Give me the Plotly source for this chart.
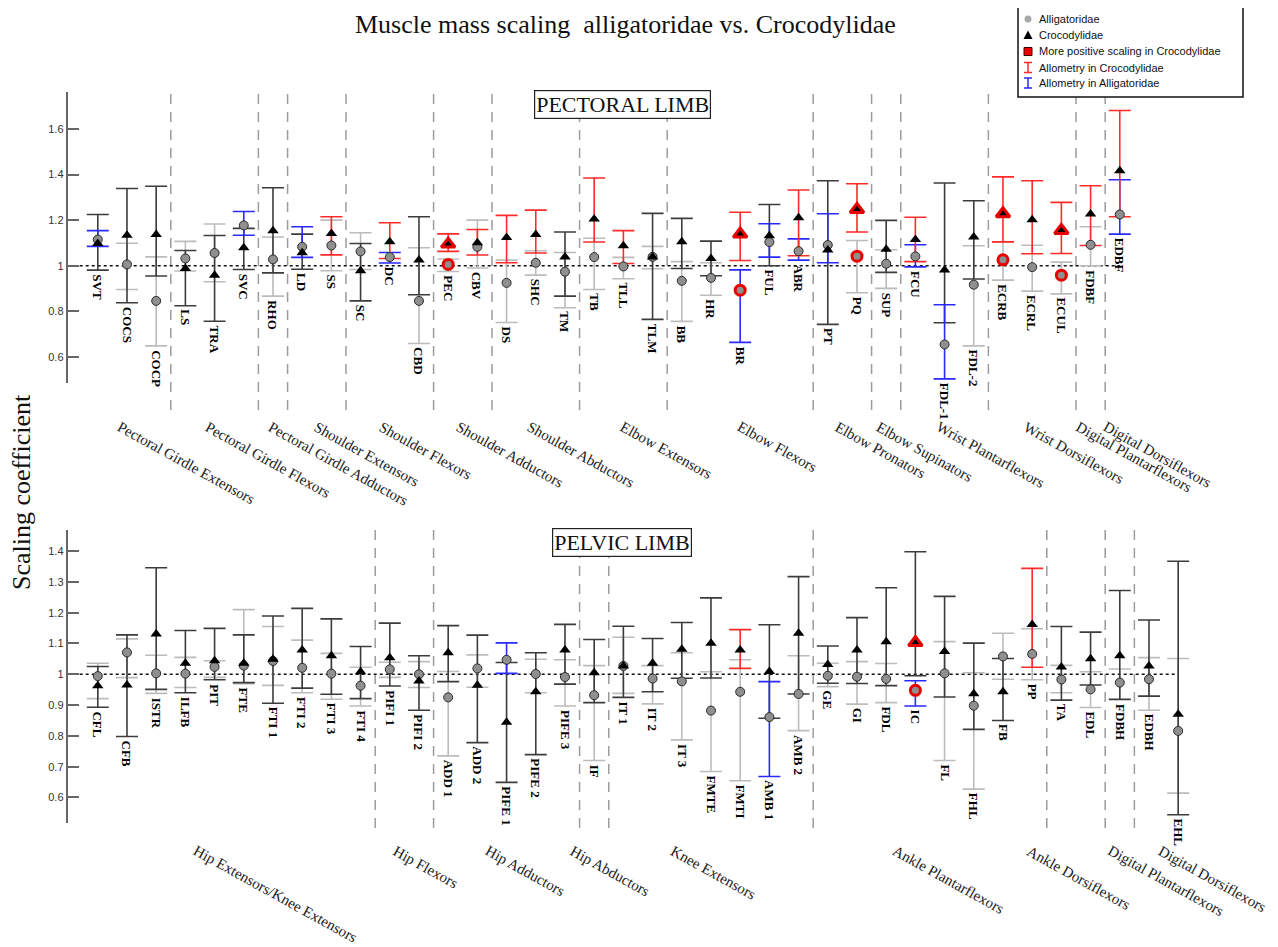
import plotly.graph_objects as go

# the page body has an 8 px margin, so the figure is laid out from there
OFF = 8
W, H = 1278 - OFF, 947 - OFF

# ---------------- data ----------------
pectoral_muscles = ["SVT", "COCS", "COCP", "LS", "TRA", "SVC", "RHO", "LD", "SS", "SC", "DC", "CBD",
                    "PEC", "CBV", "DS", "SHC", "TM", "TB", "TLL", "TLM", "BB", "HR", "BR", "FUL",
                    "ABR", "PT", "PQ", "SUP", "FCU", "FDL-1", "FDL-2", "ECRB", "ECRL", "ECUL", "FDBF", "EDBF"]
pectoral_allig = [1.115, 1.006, 0.846, 1.032, 1.056, 1.177, 1.028, 1.083, 1.089, 1.063, 1.038, 0.846,
                  1.006, 1.083, 0.925, 1.013, 0.974, 1.038, 0.997, 1.039, 0.934, 0.947, 0.893, 1.104,
                  1.064, 1.091, 1.042, 1.009, 1.041, 0.655, 0.917, 1.026, 0.994, 0.959, 1.092, 1.225]
pectoral_allig_lo = [1.085, 0.896, 0.649, 0.977, 0.930, 1.134, 0.867, 1.037, 0.978, 0.984, 1.012, 0.659,
                     0.975, 0.990, 0.751, 0.959, 0.816, 0.896, 0.943, 0.987, 0.756, 0.871, 0.664, 1.038,
                     1.025, 1.013, 0.882, 0.901, 0.995, 0.504, 0.649, 0.937, 0.889, 0.877, 1.000, 1.139]
pectoral_allig_hi = [1.154, 1.099, 1.039, 1.107, 1.183, 1.238, 1.126, 1.171, 1.200, 1.145, 1.058, 1.079,
                     1.030, 1.200, 1.025, 1.066, 1.058, 1.121, 1.037, 1.085, 1.018, 1.013, 0.982, 1.184,
                     1.118, 1.228, 1.111, 1.070, 1.092, 0.829, 1.088, 1.104, 1.090, 1.016, 1.171, 1.377]
pectoral_croc = [1.098, 1.134, 1.137, 0.988, 0.959, 1.079, 1.154, 1.057, 1.142, 0.978, 1.105, 1.025,
                 1.095, 1.101, 1.124, 1.137, 1.039, 1.205, 1.088, 1.039, 1.105, 1.032, 1.139, 1.132,
                 1.211, 1.069, 1.247, 1.073, 1.115, 0.981, 1.126, 1.228, 1.202, 1.155, 1.227, 1.417]
pectoral_croc_lo = [0.981, 0.838, 0.955, 0.825, 0.757, 0.984, 0.969, 0.985, 1.048, 0.846, 1.032, 0.873,
                    1.063, 1.047, 1.013, 1.056, 0.867, 1.104, 1.010, 0.765, 0.988, 0.956, 1.023, 1.000,
                    1.044, 0.743, 1.148, 0.971, 1.018, 0.750, 0.942, 1.105, 1.053, 1.054, 1.089, 1.215]
pectoral_croc_hi = [1.225, 1.339, 1.349, 1.067, 1.133, 1.164, 1.342, 1.139, 1.215, 1.098, 1.189, 1.215,
                    1.140, 1.159, 1.221, 1.244, 1.148, 1.385, 1.154, 1.230, 1.208, 1.108, 1.235, 1.269,
                    1.332, 1.373, 1.360, 1.199, 1.213, 1.363, 1.285, 1.390, 1.373, 1.278, 1.351, 1.681]
pectoral_croc_allometry = ["SS", "DC", "PEC", "CBV", "DS", "SHC", "TB", "TLL", "BR", "ABR", "PQ",
                           "FCU", "ECRB", "ECRL", "ECUL", "FDBF", "EDBF"]
pectoral_allig_allometry = ["SVT", "SVC", "LD", "DC", "BR", "FUL", "ABR", "PT", "FCU", "FDL-1", "EDBF"]
pectoral_more_positive = ["PEC", "BR", "PQ", "ECRB", "ECUL"]
pectoral_groups = ["Pectoral Girdle Extensors", "Pectoral Girdle Flexors", "Pectoral Girdle Adductors",
                   "Shoulder Extensors", "Shoulder Flexors", "Shoulder Adductors", "Shoulder Abductors",
                   "Elbow Extensors", "Elbow Flexors", "Elbow Pronators", "Elbow Supinators",
                   "Wrist Plantarflexors", "Wrist Dorsiflexors", "Digital Plantarflexors", "Digital Dorsiflexors"]
pectoral_group_sizes = [3, 3, 1, 2, 3, 2, 3, 3, 5, 2, 1, 3, 3, 1, 1]

pelvic_muscles = ["CFL", "CFB", "ISTR", "ILFB", "PIT", "FTE", "FTI 1", "FTI 2", "FTI 3", "FTI 4",
                  "PIFI 1", "PIFI 2", "ADD 1", "ADD 2", "PIFE 1", "PIFE 2", "PIFE 3", "IF", "IT 1",
                  "IT 2", "IT 3", "FMTE", "FMTI", "AMB 1", "AMB 2", "GE", "GI", "FDL", "IC", "FL",
                  "FHL", "FB", "PP", "TA", "EDL", "FDBH", "EDBH", "EHL"]
pelvic_allig = [0.994, 1.071, 1.003, 1.002, 1.024, 1.028, 1.043, 1.021, 1.002, 0.963, 1.016, 1.000,
                0.925, 1.019, 1.047, 1.001, 0.991, 0.932, 1.027, 0.986, 0.977, 0.882, 0.943, 0.861,
                0.936, 0.995, 0.992, 0.985, 0.948, 1.003, 0.898, 1.058, 1.066, 0.983, 0.951, 0.973,
                0.984, 0.816]
pelvic_allig_lo = [0.921, 0.989, 0.938, 0.957, 0.990, 0.969, 0.964, 0.940, 0.919, 0.897, 0.990, 0.957,
                   0.735, 0.958, 1.003, 0.940, 0.897, 0.720, 0.938, 0.904, 0.787, 0.684, 0.654, 0.668,
                   0.817, 0.960, 0.903, 0.908, 0.897, 0.720, 0.627, 0.984, 0.982, 0.940, 0.892, 0.917,
                   0.883, 0.614]
pelvic_allig_hi = [1.036, 1.115, 1.062, 1.055, 1.044, 1.210, 1.155, 1.111, 1.068, 1.023, 1.039, 1.041,
                   1.009, 1.063, 1.102, 1.049, 1.047, 1.028, 1.120, 1.028, 1.070, 1.008, 1.047, 0.976,
                   1.060, 1.036, 1.041, 1.035, 0.979, 1.106, 1.005, 1.133, 1.148, 1.029, 1.008, 1.017,
                   1.054, 1.051]
pelvic_croc = [0.963, 0.965, 1.131, 1.036, 1.044, 1.036, 1.049, 1.079, 1.060, 1.008, 1.054, 0.978,
               1.070, 0.964, 0.844, 0.943, 1.079, 1.005, 1.027, 1.036, 1.081, 1.101, 1.079, 1.009,
               1.133, 1.032, 1.079, 1.106, 1.103, 1.074, 0.937, 0.943, 1.162, 1.024, 1.050, 1.060,
               1.027, 0.870]
pelvic_croc_lo = [0.893, 0.798, 0.951, 0.940, 0.982, 0.973, 0.906, 0.955, 0.935, 0.921, 0.962, 0.883,
                  0.976, 0.778, 0.649, 0.739, 0.968, 0.908, 0.925, 0.943, 0.987, 0.988, 1.019, 0.857,
                  0.936, 0.971, 0.970, 0.963, 0.995, 0.926, 0.821, 0.850, 1.023, 0.916, 0.965, 0.919,
                  0.929, 0.544]
pelvic_croc_hi = [1.025, 1.128, 1.346, 1.142, 1.149, 1.128, 1.189, 1.214, 1.180, 1.090, 1.166, 1.060,
                  1.158, 1.127, 1.038, 1.070, 1.162, 1.113, 1.156, 1.116, 1.168, 1.248, 1.145, 1.161,
                  1.317, 1.092, 1.184, 1.281, 1.398, 1.253, 1.101, 1.051, 1.344, 1.155, 1.137, 1.272,
                  1.176, 1.367]
pelvic_croc_allometry = ["FMTI", "PP"]
pelvic_allig_allometry = ["PIFE 1", "AMB 1", "IC"]
pelvic_more_positive = ["IC"]
pelvic_groups = ["Hip Extensors/Knee Extensors", "Hip Flexors", "Hip Adductors", "Hip Abductors",
                 "Knee Extensors", "Ankle Plantarflexors", "Ankle Dorsiflexors",
                 "Digital Plantarflexors", "Digital Dorsiflexors"]
pelvic_group_sizes = [10, 2, 5, 1, 7, 8, 2, 1, 2]

# where the slanted group names start (category units)
pectoral_group_label_x = [0.80, 3.81, 5.97, 7.51, 9.77, 12.41, 14.84, 17.99, 22.03, 25.35, 26.79,
                          28.85, 31.83, 33.61, 34.57]
pelvic_group_label_x = [3.40, 10.23, 13.40, 16.29, 19.75, 27.35, 31.93, 34.72, 36.43]

# ---------------- styling ----------------
GREY_BAR = "#bcbcbc"
DARK_BAR = "#3c3c3c"
RED = "#ff2a2a"
BLUE = "#2a2aff"
SERIF = "Liberation Serif, Times New Roman, serif"
SANS = "Liberation Sans, Arial, sans-serif"


def px_x(p):
    return (p - OFF) / W


def px_y(p):
    return 1 - (p - OFF) / H


fig = go.Figure()


def add_bars(xa, ya, idx, vals, lo, hi, color):
    if not idx:
        return
    fig.add_trace(go.Scatter(
        x=idx, y=[vals[i] for i in idx], mode="markers", xaxis=xa, yaxis=ya,
        marker=dict(size=1, color="rgba(0,0,0,0)"),
        error_y=dict(type="data", symmetric=False,
                     array=[hi[i] - vals[i] for i in idx],
                     arrayminus=[vals[i] - lo[i] for i in idx],
                     color=color, thickness=1.6, width=11),
        showlegend=False, hoverinfo="skip"))


def draw_panel(xa, ya, muscles, allig, allig_lo, allig_hi, croc, croc_lo, croc_hi,
               croc_allo, allig_allo, more_pos, groups, sizes, label_x, sep_bottom, sep_top, group_y):
    n = len(muscles)
    idx = list(range(n))
    a_blue = [i for i in idx if muscles[i] in allig_allo]
    a_grey = [i for i in idx if muscles[i] not in allig_allo]
    c_red = [i for i in idx if muscles[i] in croc_allo]
    c_dark = [i for i in idx if muscles[i] not in croc_allo]

    add_bars(xa, ya, a_grey, allig, allig_lo, allig_hi, GREY_BAR)
    add_bars(xa, ya, c_dark, croc, croc_lo, croc_hi, DARK_BAR)
    add_bars(xa, ya, a_blue, allig, allig_lo, allig_hi, BLUE)
    add_bars(xa, ya, c_red, croc, croc_lo, croc_hi, RED)

    plain = [i for i in idx if muscles[i] not in more_pos]
    hi_lit = [i for i in idx if muscles[i] in more_pos]

    fig.add_trace(go.Scatter(
        x=plain, y=[allig[i] for i in plain], mode="markers", xaxis=xa, yaxis=ya,
        marker=dict(symbol="circle", size=9, color="#8f8f8f", line=dict(color="#2a2a2a", width=1)),
        showlegend=False))
    if hi_lit:
        fig.add_trace(go.Scatter(
            x=hi_lit, y=[allig[i] for i in hi_lit], mode="markers", xaxis=xa, yaxis=ya,
            marker=dict(symbol="circle", size=10, color="#8f8f8f", line=dict(color="#e80000", width=3)),
            showlegend=False))
    fig.add_trace(go.Scatter(
        x=plain, y=[croc[i] for i in plain], mode="markers", xaxis=xa, yaxis=ya,
        marker=dict(symbol="triangle-up", size=10, color="#000000", line=dict(width=0)),
        showlegend=False))
    if hi_lit:
        fig.add_trace(go.Scatter(
            x=hi_lit, y=[croc[i] for i in hi_lit], mode="markers", xaxis=xa, yaxis=ya,
            marker=dict(symbol="triangle-up", size=12, color="#000000", line=dict(color="#e80000", width=3)),
            showlegend=False))

    # muscle names under the bars
    for i in idx:
        fig.add_annotation(
            x=i, y=min(allig_lo[i], croc_lo[i]), xref=xa, yref=ya, text=muscles[i],
            textangle=90, xanchor="center", yanchor="top", yshift=-2, showarrow=False,
            font=dict(family=SERIF, size=13, color="#000", weight="bold"))

    # reference line at 1
    fig.add_shape(type="line", xref=xa, yref=ya, x0=-1.03, x1=n - 1, y0=1, y1=1,
                  line=dict(color="#111", width=1.5, dash="dot"), layer="below")

    # group separators and slanted group names
    edge = -0.5
    for k, s in enumerate(sizes):
        edge += s
        if k < len(sizes) - 1:
            fig.add_shape(type="line", xref=xa, yref="paper", x0=edge, x1=edge,
                          y0=px_y(sep_bottom), y1=px_y(sep_top),
                          line=dict(color="#9c9c9c", width=1.5, dash="10px,8px"), layer="below")
        fig.add_annotation(
            x=label_x[k] - 0.3, y=px_y(group_y), xref=xa, yref="paper", text=groups[k],
            textangle=29, xanchor="left", yanchor="top", showarrow=False,
            font=dict(family=SERIF, size=15, color="#222"))


draw_panel("x", "y", pectoral_muscles, pectoral_allig, pectoral_allig_lo, pectoral_allig_hi,
           pectoral_croc, pectoral_croc_lo, pectoral_croc_hi, pectoral_croc_allometry,
           pectoral_allig_allometry, pectoral_more_positive, pectoral_groups, pectoral_group_sizes,
           pectoral_group_label_x, 410, 92, 416)
draw_panel("x2", "y2", pelvic_muscles, pelvic_allig, pelvic_allig_lo, pelvic_allig_hi,
           pelvic_croc, pelvic_croc_lo, pelvic_croc_hi, pelvic_croc_allometry,
           pelvic_allig_allometry, pelvic_more_positive, pelvic_groups, pelvic_group_sizes,
           pelvic_group_label_x, 828, 530, 840)

# panel headers
for txt, cy in [("PECTORAL LIMB", 104.5), ("PELVIC LIMB", 542)]:
    fig.add_annotation(x=px_x(622), y=px_y(cy), xref="paper", yref="paper", text=txt,
                       showarrow=False, xanchor="center", yanchor="middle",
                       font=dict(family=SERIF, size=22, color="#111"),
                       bordercolor="#222", borderwidth=1.2, borderpad=1, bgcolor="white")

# title and y title
fig.add_annotation(x=px_x(625), y=px_y(25), xref="paper", yref="paper",
                   xanchor="center", yanchor="middle",
                   text="Muscle mass scaling  alligatoridae vs. Crocodylidae", showarrow=False,
                   font=dict(family=SERIF, size=26, color="#111"))
fig.add_annotation(x=px_x(22), y=px_y(492), xref="paper", yref="paper", text="Scaling coefficient",
                   xanchor="center", yanchor="middle",
                   textangle=-90, showarrow=False, font=dict(family=SERIF, size=26, color="#111"))

# legend box, drawn by hand
fig.add_shape(type="rect", xref="paper", yref="paper", x0=px_x(1018), x1=px_x(1243),
              y0=px_y(97), y1=px_y(6), line=dict(color="#111", width=1.5), fillcolor="white")
legend_items = ["Alligatoridae", "Crocodylidae", "More positive scaling in Crocodylidae",
                "Allometry in Crocodylidae", "Allometry in Alligatoridae"]
legend_rows = [19, 35, 51.5, 67.5, 83]
for txt, ry in zip(legend_items, legend_rows):
    fig.add_annotation(x=px_x(1037), y=px_y(ry), xref="paper", yref="paper", text=txt,
                       xanchor="left", yanchor="middle", showarrow=False,
                       font=dict(family=SANS, size=11, color="#111"))
sx = 1028
fig.add_shape(type="circle", xref="paper", yref="paper", x0=px_x(sx - 3.5), x1=px_x(sx + 3.5),
              y0=px_y(legend_rows[0] + 3.5), y1=px_y(legend_rows[0] - 3.5),
              fillcolor="#a8a8a8", line=dict(width=0))
ty = legend_rows[1]
fig.add_shape(type="path", xref="paper", yref="paper",
              path=f"M {px_x(sx - 4.5)} {px_y(ty + 4)} L {px_x(sx + 4.5)} {px_y(ty + 4)} "
                   f"L {px_x(sx)} {px_y(ty - 4.5)} Z",
              fillcolor="#000", line=dict(width=0))
qy = legend_rows[2]
fig.add_shape(type="rect", xref="paper", yref="paper", x0=px_x(sx - 4), x1=px_x(sx + 4),
              y0=px_y(qy + 4), y1=px_y(qy - 4), fillcolor="#ee0000", line=dict(color="#400", width=1))
for ry, col in [(legend_rows[3], RED), (legend_rows[4], BLUE)]:
    fig.add_shape(type="line", xref="paper", yref="paper", x0=px_x(sx), x1=px_x(sx),
                  y0=px_y(ry + 5), y1=px_y(ry - 5), line=dict(color=col, width=1.5))
    for cy in (ry - 5, ry + 5):
        fig.add_shape(type="line", xref="paper", yref="paper", x0=px_x(sx - 4), x1=px_x(sx + 4),
                      y0=px_y(cy), y1=px_y(cy), line=dict(color=col, width=1.5))

# 1 category = 29.2 px; left axis line at x = 67.7 px
x_range = [-1.03, -1.03 + (1278 - 67.7) / 29.2]
x_dom = [px_x(67.7), px_x(1278)]
common_y = dict(showline=True, linecolor="#666", linewidth=2, ticks="inside", ticklen=11,
                tickcolor="#666", tickwidth=1.5, showgrid=False, zeroline=False,
                tickfont=dict(family=SANS, size=11, color="#333"))

fig.update_layout(
    width=W, height=H, margin=dict(l=0, r=0, t=0, b=0),
    paper_bgcolor="white", plot_bgcolor="rgba(0,0,0,0)", showlegend=False,
    xaxis=dict(domain=x_dom, range=x_range, visible=False, anchor="y"),
    yaxis=dict(domain=[px_y(383), px_y(92)], range=[0.486, 1.762], anchor="x",
               tickvals=[0.6, 0.8, 1.0, 1.2, 1.4, 1.6], **common_y),
    xaxis2=dict(domain=x_dom, range=x_range, visible=False, anchor="y2"),
    yaxis2=dict(domain=[px_y(823), px_y(530)], range=[0.517, 1.4685], anchor="x2",
                tickvals=[0.6, 0.7, 0.8, 0.9, 1.0, 1.1, 1.2, 1.3, 1.4], **common_y),
)

fig.write_html("out.html")
